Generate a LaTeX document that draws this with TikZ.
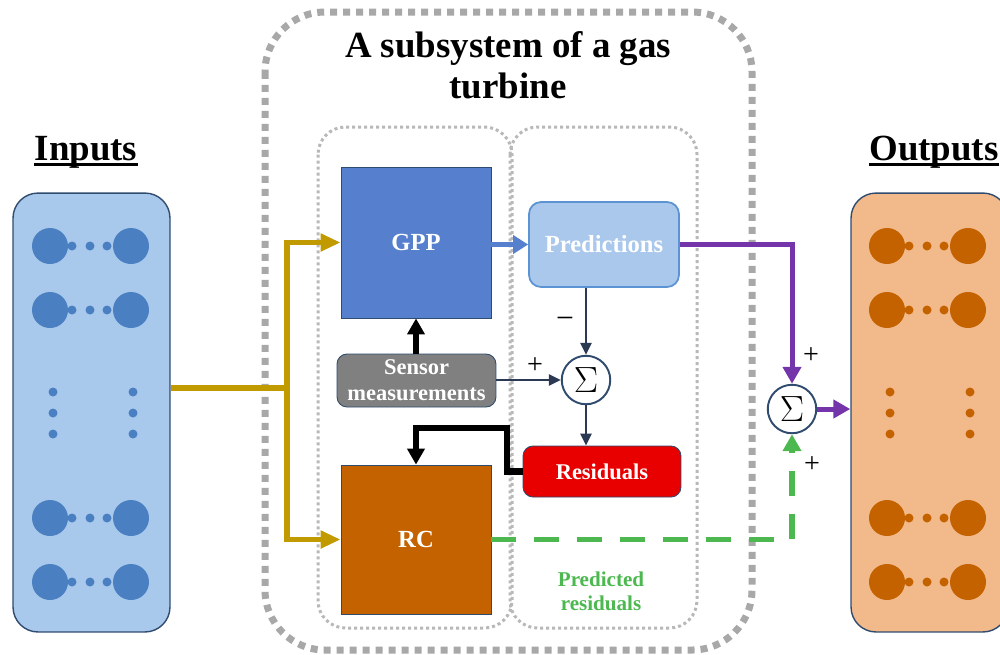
\documentclass[tikz,border=0pt]{standalone}
\usepackage{fontspec}
\setmainfont{Liberation Serif}
\usepackage{tikz}
\usetikzlibrary{arrows.meta}
\usepackage{xcolor}

\definecolor{inboxfill}{HTML}{A9C9EC}
\definecolor{indot}{HTML}{4A80C1}
\definecolor{outboxfill}{HTML}{F2B98A}
\definecolor{outdot}{HTML}{C46200}
\definecolor{boxnavy}{HTML}{2F4B6E}
\definecolor{gppblue}{HTML}{5680CD}
\definecolor{predfill}{HTML}{A9C8EB}
\definecolor{predborder}{HTML}{5B93D3}
\definecolor{sensorgray}{HTML}{808080}
\definecolor{residred}{HTML}{E80000}
\definecolor{rcorange}{HTML}{C46200}
\definecolor{goldcol}{HTML}{C19A00}
\definecolor{purplecol}{HTML}{7535AA}
\definecolor{greencol}{HTML}{4CB84F}
\definecolor{linenavy}{HTML}{2B3A52}
\definecolor{dotgray}{HTML}{A8A8A8}
\definecolor{dotgraylight}{HTML}{B8B8B8}

\begin{document}
\begin{tikzpicture}[x=0.02cm, y=-0.02cm,
    iobox/.style={draw=boxnavy, line width=0.8pt, rounded corners=0.5cm, inner sep=0pt,
      minimum width=3.14cm, minimum height=8.78cm},
    iolabel/.style={inner sep=0pt, font=\fontsize{21}{24}\selectfont\bfseries},
    blockbox/.style={draw=boxnavy, line width=0.5pt, text=white, inner sep=0pt,
      font=\fontsize{14}{16}\selectfont\bfseries},
    sumnode/.style={circle, draw=boxnavy, line width=1.1pt, fill=white,
      minimum size=0.97cm, inner sep=0pt, font=\huge},
    sign/.style={inner sep=0pt, font=\fontsize{16}{18}\selectfont},
    outerdots/.style={draw=dotgray, line width=0.14cm, dash pattern=on 0.14cm off 0.12cm,
      rounded corners=1.2cm},
    innerdots/.style={draw=dotgraylight, line width=0.06cm, dash pattern=on 0.06cm off 0.06cm,
      rounded corners=0.55cm},
    goldline/.style={draw=goldcol, line width=0.11cm, >={Triangle[length=0.4cm,width=0.34cm]}},
    blueline/.style={draw=gppblue, line width=0.1cm, >={Triangle[length=0.3cm,width=0.36cm]}},
    purpleline/.style={draw=purplecol, line width=0.1cm, >={Triangle[length=0.34cm,width=0.36cm]}},
    greenline/.style={draw=greencol, line width=0.11cm, dash pattern=on 0.5cm off 0.36cm,
      >={Triangle[length=0.34cm,width=0.36cm]}},
    thickblack/.style={draw=black, line width=0.13cm, >={Triangle[length=0.32cm,width=0.34cm]}},
    thinline/.style={draw=linenavy, line width=0.05cm, >={Triangle[length=0.24cm,width=0.22cm]}}
  ]

  \useasboundingbox (0,0) rectangle (1000,654);

  % Dotted containers
  \draw[outerdots] (265,12) rectangle (752,650);
  \draw[innerdots] (318,127) rectangle (512,628);
  \draw[innerdots] (510,127) rectangle (697,628);

  % Title (base is the last line)
  \node[iolabel, align=center, font=\fontsize{21}{23.2}\selectfont\bfseries, anchor=base]
    (title) at (508,98) {A subsystem of a gas\\turbine};

  % Input and output layers
  \node[iobox, fill=inboxfill] (inputs) at (91.5,412.5) {};
  \node[iobox, fill=outboxfill] (outputs) at (929.5,412.5) {};

  \foreach \xa/\col in {50/indot, 887/outdot}
  {
    \foreach \row in {246,310,518,582}
    {
      \fill[\col] (\xa,\row) circle[radius=18]; % Left neuron
      \fill[\col] (\xa+81,\row) circle[radius=18]; % Right neuron
      \foreach \dx in {22,40,57}
        \fill[\col] (\xa+\dx,\row) circle[radius=4.5];
    }
    % Vertical dots
    \foreach \dx in {3,83}
      \foreach \y in {392,413,434}
        \fill[\col] (\xa+\dx,\y) circle[radius=4.5];
  }

  % Layer labels
  \node[iolabel, anchor=base] (inlabel) at (86,160) {Inputs};
  \node[iolabel, anchor=base] (outlabel) at (934,160) {Outputs};
  \draw[line width=0.06cm] ([yshift=-0.08cm]inlabel.base west) -- ([yshift=-0.08cm]inlabel.base east);
  \draw[line width=0.06cm] ([yshift=-0.08cm]outlabel.base west) -- ([yshift=-0.08cm]outlabel.base east);

  % Blocks
  \node[blockbox, fill=gppblue, minimum width=3cm, minimum height=3.02cm] (gpp) at (416,242.5) {GPP};
  \node[blockbox, fill=predfill, draw=predborder, line width=1pt, rounded corners=0.24cm,
    minimum width=3cm, minimum height=1.7cm] (pred) at (604,244.5) {Predictions};
  \node[blockbox, fill=sensorgray, rounded corners=0.2cm, minimum width=3.18cm, minimum height=1.06cm,
    align=center, font=\fontsize{12.8}{14.7}\selectfont\bfseries] (sensor) at (416.5,380.5) {Sensor\\measurements};
  \node[blockbox, fill=residred, rounded corners=0.2cm, minimum width=3.16cm, minimum height=1.02cm,
    font=\fontsize{12.8}{14.7}\selectfont\bfseries] (resid) at (602,471.5) {Residuals};
  \node[blockbox, fill=rcorange, minimum width=3cm, minimum height=2.98cm] (rc) at (416,539.5) {RC};
  \node[sumnode] (sumA) at (586,380) {$\Sigma$};
  \node[sumnode] (sumB) at (792,409) {$\Sigma$};

  % Signs
  \node[sign, font=\fontsize{18}{20}\selectfont] (minusA) at (565,323) {−};
  \node[sign] (plusA) at (535,366) {+};
  \node[sign] (plusB) at (811,356) {+};
  \node[sign] (plusC) at (812,465) {+};

  \node[align=center, text=greencol, inner sep=0pt, font=\fontsize{12}{13.5}\selectfont\bfseries]
    (predres) at (601,591) {Predicted\\residuals};

  % Connectors
  \coordinate (split) at (287,388);
  \coordinate (bendR) at (507,428);

  \draw[goldline] (inputs.east |- split) -- (split);
  \draw[goldline, ->] (split) |- (gpp.west);
  \draw[goldline, ->] (split) |- (rc.west);

  \draw[blueline, ->] (gpp.east |- pred.west) -- (pred.west);

  \draw[purpleline, ->] (pred.east) -| (sumB.north);
  \draw[purpleline, ->] (sumB.east) -- (sumB -| outputs.west);

  \draw[greenline, ->] (rc.east) -| (sumB.south);

  \draw[thickblack, ->] (gpp.south |- sensor.north) -- (gpp.south);
  \draw[thickblack, ->] (resid.west) -| (bendR) -| (rc.north);

  \draw[thinline, ->] (sensor.east |- sumA.west) -- (sumA.west);
  \draw[thinline, ->] (sumA |- pred.south) -- (sumA.north);
  \draw[thinline, ->] (sumA.south) -- (sumA |- resid.north);

\end{tikzpicture}
\end{document}
